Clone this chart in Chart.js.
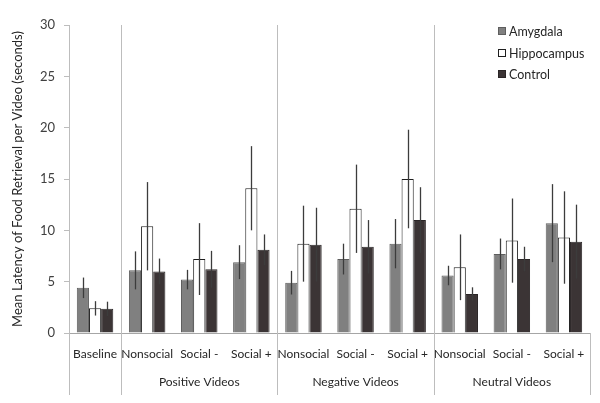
<!DOCTYPE html>
<html>
<head>
<meta charset="utf-8">
<script src="https://cdn.jsdelivr.net/npm/chart.js@4/dist/chart.umd.min.js"></script>
<style>
  html, body { margin: 0; padding: 0; background: #fff; }
  #wrap { width: 600px; height: 403px; }
</style>
</head>
<body>
<div id="wrap"><canvas id="c" width="600" height="403"></canvas></div>
<script>
const categories = ['Baseline', 'Nonsocial', 'Social -', 'Social +', 'Nonsocial', 'Social -', 'Social +', 'Nonsocial', 'Social -', 'Social +'];
const groupLabels = ['Positive Videos', 'Negative Videos', 'Neutral Videos'];
const groupStart = [1, 4, 7];
const groupEnd = [3, 6, 9];
const seriesNames = ['Amygdala', 'Hippocampus', 'Control'];
const amygdala = [4.4, 6.1, 5.2, 6.9, 4.9, 7.2, 8.7, 5.6, 7.7, 10.7];
const amygdalaErr = [1.0, 1.85, 0.95, 1.65, 1.15, 1.5, 2.4, 0.95, 1.5, 3.8];
const hippocampus = [2.4, 10.4, 7.2, 14.1, 8.7, 12.1, 15.0, 6.4, 9.0, 9.3];
const hippocampusErr = [0.7, 4.3, 3.5, 4.1, 3.7, 4.3, 4.8, 3.2, 4.1, 4.5];
const control = [2.35, 6.0, 6.2, 8.1, 8.6, 8.4, 11.0, 3.8, 7.2, 8.9];
const controlErr = [0.7, 1.25, 1.8, 1.5, 3.6, 2.6, 3.2, 0.65, 1.2, 3.6];
const yTicks = [0, 5, 10, 15, 20, 25, 30];

const FONT = 'Lato, "Open Sans", sans-serif';
const fills = ['#808080', '#ffffff', '#3b3435'];
const borders = ['#5e5e5e', '#1e1e1e', '#2a2526'];
const errs = [amygdalaErr, hippocampusErr, controlErr];

const errorBars = {
  id: 'errorBars',
  afterDatasetsDraw(chart) {
    const ctx = chart.ctx;
    const y = chart.scales.y;
    ctx.save();
    ctx.strokeStyle = '#3c3c3c';
    ctx.lineWidth = 1.3;
    chart.data.datasets.forEach((ds, di) => {
      const meta = chart.getDatasetMeta(di);
      meta.data.forEach((el, i) => {
        const v = ds.data[i], e = errs[di][i];
        const x = Math.round(el.x) + 0.5;
        ctx.beginPath();
        ctx.moveTo(x, y.getPixelForValue(v + e));
        ctx.lineTo(x, y.getPixelForValue(v - e));
        ctx.stroke();
      });
    });
    ctx.restore();
  }
};

const decorations = {
  id: 'decorations',
  afterDraw(chart) {
    const ctx = chart.ctx;
    const x = chart.scales.x;
    const a = chart.chartArea;
    const bottomExt = 395;
    ctx.save();
    ctx.strokeStyle = '#bdbdbd';
    ctx.lineWidth = 1;
    const bound = (i) => {
      if (i <= 0) return a.left;
      if (i >= categories.length) return a.right;
      return (x.getPixelForValue(i - 1) + x.getPixelForValue(i)) / 2;
    };
    [1, 4, 7].forEach(i => {
      const px = Math.round(bound(i)) + 0.5;
      ctx.beginPath(); ctx.moveTo(px, a.top); ctx.lineTo(px, bottomExt); ctx.stroke();
    });
    [0, categories.length].forEach(i => {
      const px = Math.round(bound(i)) + 0.5;
      ctx.beginPath(); ctx.moveTo(px, a.bottom); ctx.lineTo(px, bottomExt); ctx.stroke();
    });
    ctx.fillStyle = '#262626';
    ctx.font = '12px ' + FONT;
    ctx.textAlign = 'center';
    ctx.textBaseline = 'middle';
    groupLabels.forEach((g, k) => {
      const cx = (bound(groupStart[k]) + bound(groupEnd[k] + 1)) / 2;
      ctx.fillText(g, cx, 382);
    });
    const lx = 498, ly = [31, 53, 74];
    ctx.textAlign = 'left';
    ctx.font = '12.5px ' + FONT;
    seriesNames.forEach((n, k) => {
      ctx.fillStyle = fills[k];
      ctx.fillRect(lx, ly[k] - 4, 8, 8);
      ctx.strokeStyle = borders[k];
      ctx.strokeRect(lx + 0.5, ly[k] - 3.5, 7, 7);
      ctx.fillStyle = '#262626';
      ctx.fillText(n, lx + 11, ly[k] + 1);
    });
    ctx.restore();
  }
};

new Chart(document.getElementById('c'), {
  type: 'bar',
  data: {
    labels: categories,
    datasets: [
      { label: seriesNames[0], data: amygdala, backgroundColor: fills[0], borderColor: borders[0], borderWidth: 1 },
      { label: seriesNames[1], data: hippocampus, backgroundColor: fills[1], borderColor: borders[1], borderWidth: 1 },
      { label: seriesNames[2], data: control, backgroundColor: fills[2], borderColor: borders[2], borderWidth: 1 }
    ]
  },
  options: {
    responsive: false,
    animation: false,
    devicePixelRatio: 1,
    layout: { padding: { top: 25, right: 10, left: 0, bottom: 0 } },
    datasets: { bar: { categoryPercentage: 0.7, barPercentage: 1.0 } },
    plugins: { legend: { display: false }, tooltip: { enabled: false } },
    scales: {
      x: {
        grid: { display: false },
        border: { display: true, color: '#a6a6a6', width: 1 },
        ticks: { color: '#262626', font: { family: FONT, size: 12 }, padding: 6, maxRotation: 0, autoSkip: false },
        afterFit(s) { s.height = 70; }
      },
      y: {
        min: 0, max: 30,
        afterBuildTicks(s) { s.ticks = yTicks.map(v => ({ value: v })); },
        grid: { drawOnChartArea: false, drawTicks: true, tickLength: 5, color: '#bdbdbd' },
        border: { display: true, color: '#bdbdbd', width: 1 },
        ticks: { color: '#404040', font: { family: FONT, size: 13 }, padding: 9 },
        title: { display: true, text: 'Mean Latency of Food Retrieval per Video (seconds)', color: '#262626', font: { family: FONT, size: 13 }, padding: { top: 10, bottom: 0 } },
        afterFit(s) { s.width = 69; }
      }
    }
  },
  plugins: [errorBars, decorations]
});
</script>
</body>
</html>
